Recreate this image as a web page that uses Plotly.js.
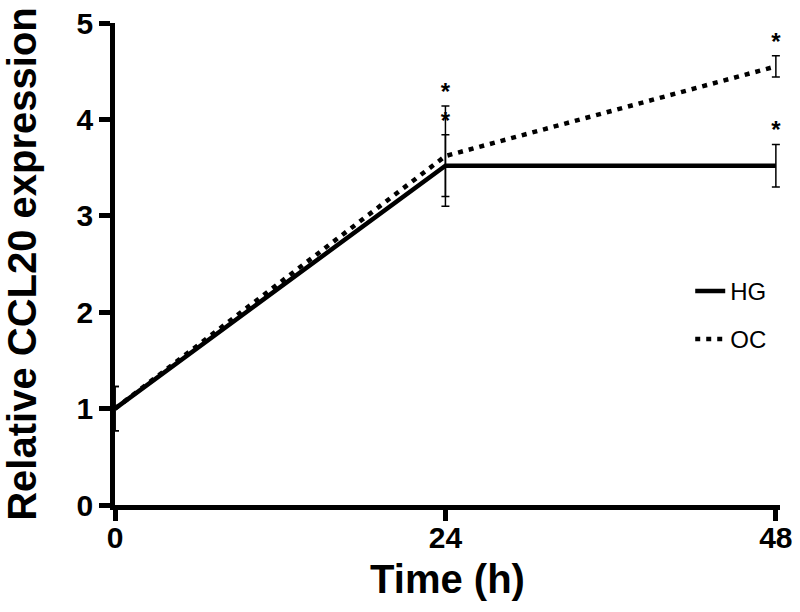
<!DOCTYPE html>
<html>
<head>
<meta charset="utf-8">
<script src="https://cdn.plot.ly/plotly-3.0.1.min.js"></script>
<style>
  body { margin: 0; background: #fff; }
  #plot { width: 800px; height: 612px; }
</style>
</head>
<body>
<div id="plot"></div>
<script>
// Time points (h)
var timePoints = [0, 24, 48];

// Relative CCL20 expression, mean and error
var hgMean = [1.0, 3.52, 3.52];
var hgErr = [0.23, 0.32, 0.22];
var ocMean = [1.0, 3.62, 4.55];
var ocErr = [0.23, 0.52, 0.11];

// significance marks
var hgSig = ["", "*", "*"];
var ocSig = ["", "*", "*"];

var errStyle = {thickness: 1.5, width: 4, color: "black"};

var ocTrace = {
  x: timePoints,
  y: ocMean,
  name: "OC",
  mode: "lines",
  type: "scatter",
  cliponaxis: false,
  legendgroup: "oc",
  line: {color: "black", width: 4.5, dash: "5px,6px"},
  error_y: Object.assign({type: "data", array: ocErr, visible: true}, errStyle)
};

var hgTrace = {
  x: timePoints,
  y: hgMean,
  name: "HG",
  mode: "lines",
  type: "scatter",
  cliponaxis: false,
  legendgroup: "hg",
  line: {color: "black", width: 4.5},
  error_y: Object.assign({type: "data", array: hgErr, visible: true}, errStyle)
};

// stars sit on top of the upper error bar
function starTrace(means, errs, marks) {
  return {
    x: timePoints,
    y: means.map(function(m, i) { return m + errs[i]; }),
    text: marks,
    mode: "text",
    type: "scatter",
    textposition: "top center",
    cliponaxis: false,
    showlegend: false,
    hoverinfo: "skip",
    textfont: {family: "Liberation Sans, Arial, sans-serif", size: 24, color: "black", weight: 700}
  };
}

var data = [hgTrace, ocTrace, starTrace(hgMean, hgErr, hgSig), starTrace(ocMean, ocErr, ocSig)];

var tickFont = {family: "Liberation Sans, Arial, sans-serif", size: 30, color: "black", weight: 700};
var titleFont = {family: "Liberation Sans, Arial, sans-serif", size: 40, color: "black", weight: 700};

var layout = {
  width: 800,
  height: 612,
  margin: {l: 115, r: 20, t: 23, b: 107},
  paper_bgcolor: "white",
  plot_bgcolor: "white",
  showlegend: true,
  legend: {
    x: 0.865, y: 0.49, xanchor: "left", yanchor: "top",
    traceorder: "grouped",
    tracegroupgap: 14,
    font: {family: "Liberation Sans, Arial, sans-serif", size: 24, color: "black"},
    bgcolor: "rgba(0,0,0,0)"
  },
  xaxis: {
    title: {text: "Time (h)", font: titleFont, standoff: 14},
    range: [0, 48.3],
    tickvals: timePoints,
    ticktext: ["0", "24", "48"],
    showline: true, linewidth: 4.5, linecolor: "black",
    ticks: "outside", ticklen: 11, tickwidth: 4.5, tickcolor: "black",
    ticklabelstandoff: -9,
    showgrid: false, zeroline: false,
    tickfont: tickFont,
    automargin: false
  },
  yaxis: {
    title: {text: "Relative CCL20 expression", font: titleFont, standoff: 29},
    range: [0, 5],
    dtick: 1,
    showline: true, linewidth: 4.5, linecolor: "black",
    ticks: "outside", ticklen: 11, tickwidth: 4.5, tickcolor: "black",
    showgrid: false, zeroline: false,
    tickfont: tickFont,
    automargin: false
  }
};

Plotly.newPlot("plot", data, layout, {displayModeBar: false});
</script>
</body>
</html>
